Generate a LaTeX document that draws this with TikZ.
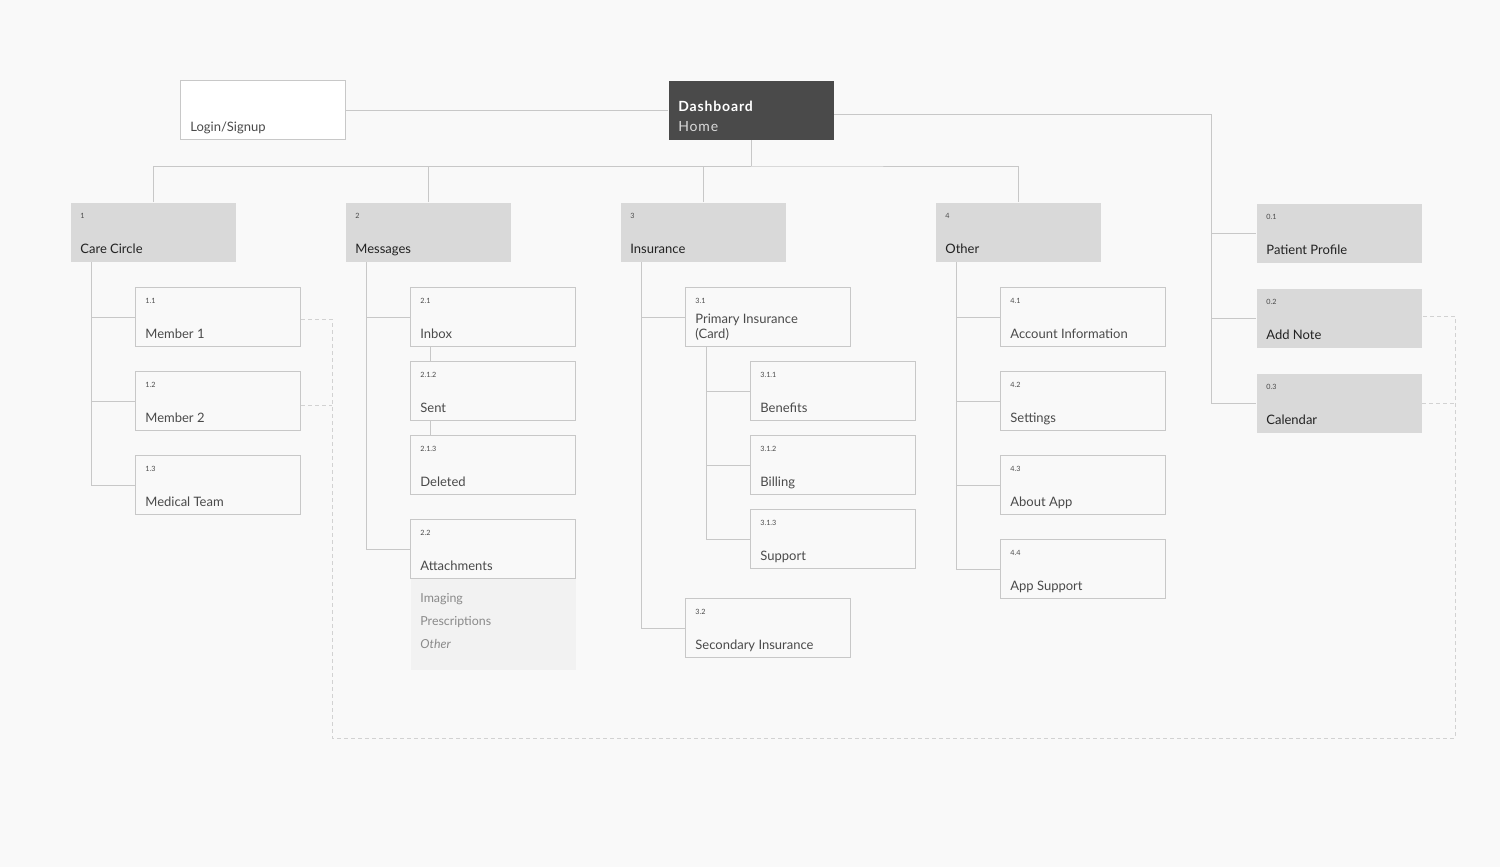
\documentclass[tikz,border=0pt]{standalone}
\usepackage{fontspec}
\setmainfont{Lato}
\newfontfamily\widefont[LetterSpace = 6]{Lato}
\usetikzlibrary{positioning}

\definecolor{canvas}{HTML}{F9F9F9}
\definecolor{wire}{HTML}{C8C8C8}
\definecolor{loopwire}{HTML}{D2D2D2}
\definecolor{dashdark}{HTML}{4A4A4A}
\definecolor{section}{HTML}{D9D9D9}
\definecolor{panel}{HTML}{F2F2F2}
\definecolor{ink}{HTML}{222222}
\definecolor{inksoft}{HTML}{4A4A4A}
\definecolor{muted}{HTML}{8A8A8A}

% Box with a small number and a label: [label colour]{style}{name}{position}{number}{label}
\newcommand{\screen}[6][inksoft]{%
	\node [#2] (#3) at (#4) {};
	\node [num] at ([xshift = 5pt, yshift = -8pt]#3.north west) {#5};
	\node [lbl, text = #1] at ([xshift = 5pt, yshift = -25.5pt]#3.north west) {#6};
}

\begin{document}
\begin{tikzpicture}[x = 0.5pt, y = -0.5pt,
	wire/.style = {draw = wire, line width = 0.5pt},
	loopline/.style = {draw = loopwire, line width = 0.5pt, dash pattern = on 2pt off 1.5pt},
	box/.style = {rectangle, anchor = north west, inner sep = 0pt, line width = 0.5pt,
		minimum width = 82.5pt, minimum height = 29.5pt},
	pagebox/.style = {box, draw = wire, fill = canvas},
	groupbox/.style = {box, fill = section},
	num/.style = {anchor = base west, inner sep = 0pt, text = inksoft,
		font = \fontsize{3.6}{4}\selectfont},
	lbl/.style = {anchor = base west, inner sep = 0pt, align = left,
		font = \fontsize{6.5}{7.5}\selectfont},
	sub/.style = {anchor = base west, inner sep = 0pt, text = muted,
		font = \fontsize{6.2}{7}\selectfont}]

% Canvas

\fill [canvas] (0, 0) rectangle (1500, 867);
\useasboundingbox (0, 0) rectangle (1500, 867);

% Entry screens

\node [box, draw = wire, fill = white] (login) at (180, 80) {};
\node [lbl, text = inksoft] at ([xshift = 5pt, yshift = -25.5pt]login.north west) {Login/Signup};

\node [box, fill = dashdark] (dash) at (668, 80) {};
\node [anchor = base west, inner sep = 0pt, text = white, font = \fontsize{7}{8}\selectfont\widefont\bfseries]
	at ([xshift = 5pt, yshift = -15.5pt]dash.north west) {Dashboard};
\node [anchor = base west, inner sep = 0pt, text = white!80!dashdark, font = \fontsize{7}{8}\selectfont\widefont]
	at ([xshift = 5pt, yshift = -25.5pt]dash.north west) {Home};

% Main sections

\screen[ink]{groupbox}{care}{70, 202}{1}{Care Circle}
\screen[ink]{groupbox}{msgs}{345, 202}{2}{Messages}
\screen[ink]{groupbox}{insur}{620, 202}{3}{Insurance}
\screen[ink]{groupbox}{other}{935, 202}{4}{Other}

% Quick actions

\screen[ink]{groupbox}{prof}{1256, 203}{0.1}{Patient Profile}
\screen[ink]{groupbox}{note}{1256, 288}{0.2}{Add Note}
\screen[ink]{groupbox}{cal}{1256, 373}{0.3}{Calendar}

% Care Circle

\screen{pagebox}{mem1}{135, 287}{1.1}{Member 1}
\screen{pagebox}{mem2}{135, 371}{1.2}{Member 2}
\screen{pagebox}{med}{135, 455}{1.3}{Medical Team}

% Messages

\node [box, fill = panel, minimum height = 45.5pt] (attlist) at (410, 578) {};
\node [sub] at ([xshift = 5pt, yshift = -12pt]attlist.north west) {Imaging};
\node [sub] at ([xshift = 5pt, yshift = -23.5pt]attlist.north west) {Prescriptions};
\node [sub] at ([xshift = 5pt, yshift = -35pt]attlist.north west) {\itshape Other};

\screen{pagebox}{inbox}{410, 287}{2.1}{Inbox}
\screen{pagebox}{sent}{410, 361}{2.1.2}{Sent}
\screen{pagebox}{deleted}{410, 435}{2.1.3}{Deleted}
\screen{pagebox}{attach}{410, 519}{2.2}{Attachments}

% Insurance

\node [pagebox] (prim) at (685, 287) {};
\node [num] at ([xshift = 5pt, yshift = -8pt]prim.north west) {3.1};
\node [lbl, text = inksoft] at ([xshift = 5pt, yshift = -18pt]prim.north west) {Primary Insurance};
\node [lbl, text = inksoft] at ([xshift = 5pt, yshift = -25.5pt]prim.north west) {(Card)};

\screen{pagebox}{benef}{750, 361}{3.1.1}{Benefits}
\screen{pagebox}{bill}{750, 435}{3.1.2}{Billing}
\screen{pagebox}{supp}{750, 509}{3.1.3}{Support}
\screen{pagebox}{sec}{685, 598}{3.2}{Secondary Insurance}

% Other

\screen{pagebox}{acct}{1000, 287}{4.1}{Account Information}
\screen{pagebox}{sett}{1000, 371}{4.2}{Settings}
\screen{pagebox}{about}{1000, 455}{4.3}{About App}
\screen{pagebox}{appsup}{1000, 539}{4.4}{App Support}

% Top level links

\draw [wire] (login.east) -- (dash.west);
\coordinate (bus) at ([yshift = -13pt]dash.south);
\draw [wire] (dash.south) -- (bus);
\draw [wire] (care.north) |- (bus) -| (other.north);
\foreach \g in {msgs, insur}
	\draw [wire] (\g.north) |- (bus);

\coordinate (rspine) at ([xshift = -22.5pt]cal.west);
\draw [wire] ([yshift = -2pt]dash.east) -| (rspine) -- (cal.west);
\foreach \p in {prof, note}
	\draw [wire] (\p.west -| rspine) -- (\p.west);

% Section trees

\foreach \c in {mem1, mem2, med}
	\draw [wire] ([xshift = 10.5pt]care.south west) |- (\c.west);
\foreach \c in {inbox, attach}
	\draw [wire] ([xshift = 10.5pt]msgs.south west) |- (\c.west);
\draw [wire] ([xshift = 10pt]inbox.south west) -- ([xshift = 10pt]sent.north west);
\draw [wire] ([xshift = 10pt]sent.south west) -- ([xshift = 10pt]deleted.north west);
\foreach \c in {prim, sec}
	\draw [wire] ([xshift = 10.5pt]insur.south west) |- (\c.west);
\foreach \c in {benef, bill, supp}
	\draw [wire] ([xshift = 10.5pt]prim.south west) |- (\c.west);
\foreach \c in {acct, sett, about, appsup}
	\draw [wire] ([xshift = 10.5pt]other.south west) |- (\c.west);

% Dashed loop

\coordinate (loopl) at (332, 738);
\coordinate (loopr) at (1455, 738);
\draw [loopline] ([yshift = -1pt]mem1.east) -| (loopl) -- (loopr) |- ([yshift = 1pt]note.east);
\draw [loopline] ([yshift = -2pt]mem2.east) -- ([yshift = -2pt]mem2.east -| loopl);
\draw [loopline] (cal.east) -- (cal.east -| loopr);

\end{tikzpicture}
\end{document}
